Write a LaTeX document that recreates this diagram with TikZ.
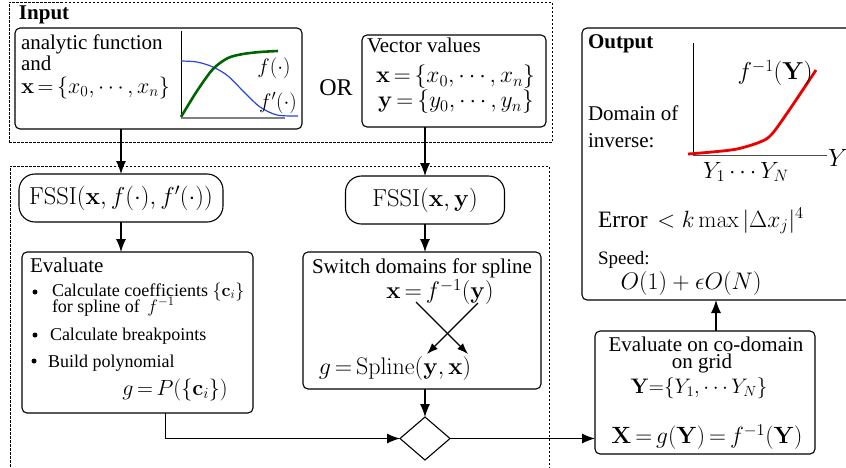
\RequirePackage{fix-cm}
\documentclass[tikz,border=0pt]{standalone}
\usepackage[no-math]{fontspec}
\setmainfont{Liberation Serif}
\usetikzlibrary{arrows.meta,shapes.geometric,calc}
\definecolor{dgreen}{RGB}{0,100,0}
\definecolor{cblue}{RGB}{40,70,220}
\definecolor{cred}{RGB}{235,0,0}
\newcommand{\fsz}[1]{\fontsize{#1}{#1}\selectfont}
\begin{document}
\begin{tikzpicture}[x=1pt,y=-1pt,
  every node/.style={inner sep=0pt,outer sep=0pt},
  box/.style={draw,line width=1.1pt,rounded corners=5pt,rectangle},
  dbox/.style={draw,line width=0.8pt,dash pattern=on 2.5pt off 1.5pt,rectangle},
  txt/.style={font=\fsz{21}},
  btxt/.style={font=\fsz{21}\bfseries},
  stxt/.style={font=\fsz{18}},
  arr/.style={line width=1.1pt,-{Latex[length=13pt,width=10pt]}},
  sarr/.style={line width=1.1pt,-{Latex[length=11pt,width=8pt]}},
  bul/.style={circle,fill,minimum size=5pt}
  ]
\path[use as bounding box] (0,0) rectangle (846,467);
\clip (0,0) rectangle (846,467);

% ---------- containers ----------
\node[dbox,minimum width=543,minimum height=140] (inbox) at (280.5,72) {};
\node[dbox,minimum width=539,minimum height=324] (procbox) at (279.5,328) {};
\node[box,minimum width=287,minimum height=101] (anbox) at (158.5,78.5) {};
\node[box,minimum width=184,minimum height=92] (vecbox) at (454,81) {};
\node[box,minimum width=298,minimum height=272] (outbox) at (731,164) {};

% ---------- process nodes ----------
\node[box,rounded corners=16pt,minimum width=204,minimum height=48] (fssi1) at (121,198) {};
\node[font=\fsz{24.5}] (fssi1t) at (121,198) {$\mathrm{FSSI}(\mathbf{x},f(\cdot),f'(\cdot))$};
\node[box,minimum width=231,minimum height=161] (evalbox) at (137.5,332.5) {};
\node[box,rounded corners=16pt,minimum width=159,minimum height=48] (fssi2) at (425,200) {};
\node[font=\fsz{24.5}] (fssi2t) at (425,200) {$\mathrm{FSSI}(\mathbf{x},\mathbf{y})$};
\node[box,minimum width=238,minimum height=137] (switchbox) at (422,320.5) {};
\node[draw,line width=1.1pt,diamond,minimum width=50,minimum height=43] (dia) at (425,438.5) {};
\node[box,minimum width=220,minimum height=123] (evco) at (705,392.5) {};

% ---------- input texts ----------
\node[btxt,anchor=base west] (inlab) at (19,19) {Input};
\node[txt,anchor=base west] (an1) at (21,49) {analytic function};
\node[txt,anchor=base west] (an2) at (21,70) {and};
\node[font=\fsz{22},anchor=west] (an3) at (21,88) {$\mathbf{x}\,{=}\,\{x_0,\cdots,x_n\}$};
\draw[line width=0.8pt] (181,31) -- (181,118);
\draw[line width=2pt,gray] (181,118) -- (285,118);
\draw[cblue,line width=1.2pt] plot[smooth] coordinates {(181,61) (197,62) (213,67) (228,76) (245,93) (260,107) (277,115) (298,116)};
\draw[dgreen,line width=2.6pt] plot[smooth] coordinates {(181,117) (197,91) (213,69) (228,58) (243,54) (260,52) (278,51)};
\node[font=\fsz{21}] (flab) at (274,68) {$f(\cdot)$};
\node[font=\fsz{21}] (fplab) at (278,103) {$f'(\cdot)$};
\node[font=\fsz{24}] (orlab) at (336,88) {OR};
\node[txt,anchor=base west] (vv) at (367,52) {Vector values};
\node[font=\fsz{23.5}] (vx) at (455.5,77) {$\mathbf{x}\,{=}\,\{x_0,\cdots,x_n\}$};
\node[font=\fsz{23.5}] (vy) at (456,102) {$\mathbf{y}\,{=}\,\{y_0,\cdots,y_n\}$};

% ---------- evaluate texts ----------
\node[txt,anchor=base west] (ev) at (30,272) {Evaluate};
\node[bul] (b1) at (35,292) {};
\node[stxt,anchor=base west] (ev1a) at (52,296) {Calculate coefficients $\{\mathbf{c}_i\}$};
\node[stxt,anchor=base west] (ev1b) at (52,312) {for spline of \,$f^{-1}$};
\node[bul] (b2) at (35,335) {};
\node[stxt,anchor=base west] (ev2) at (50,340) {Calculate breakpoints};
\node[bul] (b3) at (34,361) {};
\node[stxt,anchor=base west] (ev3) at (48,367) {Build polynomial};
\node[font=\fsz{22}] (gp) at (175,390) {$g\,{=}\,P(\{\mathbf{c}_i\})$};

% ---------- switch texts ----------
\node[txt,anchor=base] (sw) at (422,273) {Switch domains for spline};
\node[font=\fsz{24}] (sx) at (440,292) {$\mathbf{x}\,{=}\,f^{-1}(\mathbf{y})$};
\node[font=\fsz{24}] (sg) at (395,368) {$g\,{=}\,\mathrm{Spline}(\mathbf{y},\mathbf{x})$};
\coordinate (a1) at (416,302);
\coordinate (a2) at (468,354);
\coordinate (c1) at (478,303);
\coordinate (c2) at (427,354);
\draw[sarr] (a1) -- (a2);
\draw[sarr] (c1) -- (c2);

% ---------- evaluate on co-domain ----------
\node[txt,anchor=base] (ec1) at (706,351) {Evaluate on co-domain};
\node[txt,anchor=base] (ec2) at (702,368) {on grid};
\node[txt] (ec3) at (699,388) {$\mathbf{Y}{=}\{Y_1,\cdots Y_N\}$};
\node[font=\fsz{23.5}] (ec4) at (707,437) {$\mathbf{X}\,{=}\,g(\mathbf{Y})\,{=}\,f^{-1}(\mathbf{Y})$};

% ---------- output ----------
\node[btxt,anchor=base west] (outlab) at (588,48) {Output};
\draw[line width=0.8pt] (693,43) -- (693,155);
\draw[line width=1pt,black!70] (693,155) -- (827,155);
\draw[cred,line width=2.8pt] plot[smooth] coordinates {(688,154) (712,152) (737,149) (760,142) (772,134) (792,106) (816,70)};
\node[font=\fsz{24.5}] (finv) at (775,73) {$f^{-1}(\mathbf{Y})$};
\node[font=\fsz{25}] (ylab) at (838,158) {$Y$};
\node[txt,anchor=base west] (dom1) at (588,120) {Domain of};
\node[txt,anchor=base west] (dom2) at (588,147) {inverse:};
\node[font=\fsz{23.5}] (yy) at (746,172) {$Y_1\cdots Y_N$};
\node[font=\fsz{23.5},anchor=base west] (err) at (598,227) {Error \,$<k\max|\Delta x_j|^4$};
\node[font=\fsz{19},anchor=base west] (spd) at (598,264) {Speed:};
\node[font=\fsz{24}] (spv) at (691,283) {$O(1)+\epsilon O(N)$};

% ---------- connectors ----------
\draw[arr] (anbox.south -| fssi1.north) -- (fssi1.north);
\draw[arr] (fssi1.south) -- (fssi1.south |- evalbox.north);
\draw[arr] (vecbox.south -| fssi2.north) -- (fssi2.north);
\draw[arr] (fssi2.south) -- (fssi2.south |- switchbox.north);
\draw[arr] (switchbox.south -| dia.north) -- (dia.north);
\coordinate (evout) at ($(evalbox.south)+(28,0)$);
\draw[arr] (evout) |- (dia.west);
\draw[arr] (dia.east) -- (dia.east -| evco.west);
\coordinate (ecup) at ($(evco.north)+(11,0)$);
\draw[arr] (ecup) -- (ecup |- outbox.south);
\end{tikzpicture}
\end{document}
